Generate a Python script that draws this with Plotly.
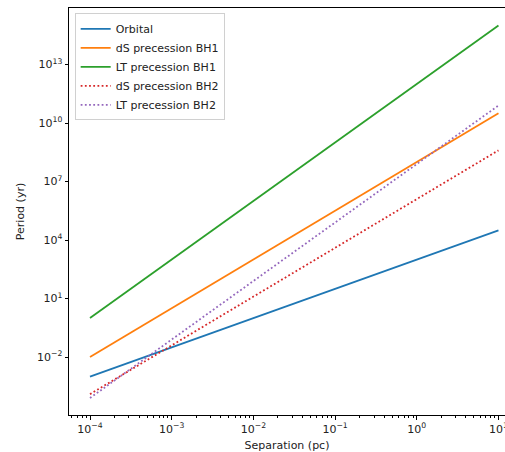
import plotly.graph_objects as go

separation = [1e-4, 1e-3, 1e-2, 1e-1, 1e0, 1e1]
orbital = [10**-3.0, 10**-1.5, 10**0.0, 10**1.5, 10**3.0, 10**4.5]
ds_bh1 = [10**-2.0, 10**0.5, 10**3.0, 10**5.5, 10**8.0, 10**10.5]
lt_bh1 = [10**0.0, 10**3.0, 10**6.0, 10**9.0, 10**12.0, 10**15.0]
ds_bh2 = [10**-3.9, 10**-1.4, 10**1.1, 10**3.6, 10**6.1, 10**8.6]
lt_bh2 = [10**-4.1, 10**-1.1, 10**1.9, 10**4.9, 10**7.9, 10**10.9]

series = [
    ("Orbital", orbital, "#1f77b4", "solid"),
    ("dS precession BH1", ds_bh1, "#ff7f0e", "solid"),
    ("LT precession BH1", lt_bh1, "#2ca02c", "solid"),
    ("dS precession BH2", ds_bh2, "#d62728", "1.8px,2.4px"),
    ("LT precession BH2", lt_bh2, "#9467bd", "1.8px,2.4px"),
]

x_tick_exp = [-4, -3, -2, -1, 0, 1]
y_tick_exp = [-2, 1, 4, 7, 10, 13]

def sup(e):
    s = str(e).replace("-", "\u2212")
    return "10<sup>" + s + "</sup>"

fig = go.Figure()
for name, vals, color, dash in series:
    fig.add_trace(go.Scatter(x=separation, y=vals, mode="lines", name=name,
                             line=dict(color=color, width=1.8, dash=dash)))

minor_x = [m * 10**e for e in range(-5, 2) for m in range(2, 10)]

font = dict(family="DejaVu Sans", size=11, color="#222")
fig.update_layout(
    width=505, height=452,
    margin=dict(l=69, r=0, t=8, b=37, autoexpand=False),
    plot_bgcolor="white", paper_bgcolor="white",
    font=font,
    showlegend=True,
    legend=dict(x=0.013, y=0.987, xanchor="left", yanchor="top",
                bgcolor="rgba(255,255,255,0.8)", bordercolor="#d0d0d0", borderwidth=1,
                font=dict(family="DejaVu Sans", size=11, color="#222"),
                tracegroupgap=0, itemwidth=30),
    xaxis=dict(type="log", range=[-4.257, 1.08], showgrid=False, zeroline=False,
               automargin=False,
               showline=True, linecolor="black", linewidth=1, mirror=True,
               ticks="outside", ticklen=3.5, tickcolor="black",
               ticklabeloverflow="allow",
               tickvals=[10**e for e in x_tick_exp], ticktext=[sup(e) for e in x_tick_exp],
               minor=dict(ticks="outside", ticklen=2, tickcolor="black", tickvals=minor_x, showgrid=False),
               title=dict(text="Separation (pc)", standoff=7, font=dict(size=11))),
    yaxis=dict(type="log", range=[-4.97, 15.9], showgrid=False, zeroline=False,
               automargin=False,
               showline=True, linecolor="black", linewidth=1,
               ticks="outside", ticklen=3.5, tickcolor="black",
               tickvals=[10**e for e in y_tick_exp], ticktext=[sup(e) for e in y_tick_exp],
               title=dict(text="Period (yr)", standoff=10, font=dict(size=11))),
)

fig.write_html("out.html")
